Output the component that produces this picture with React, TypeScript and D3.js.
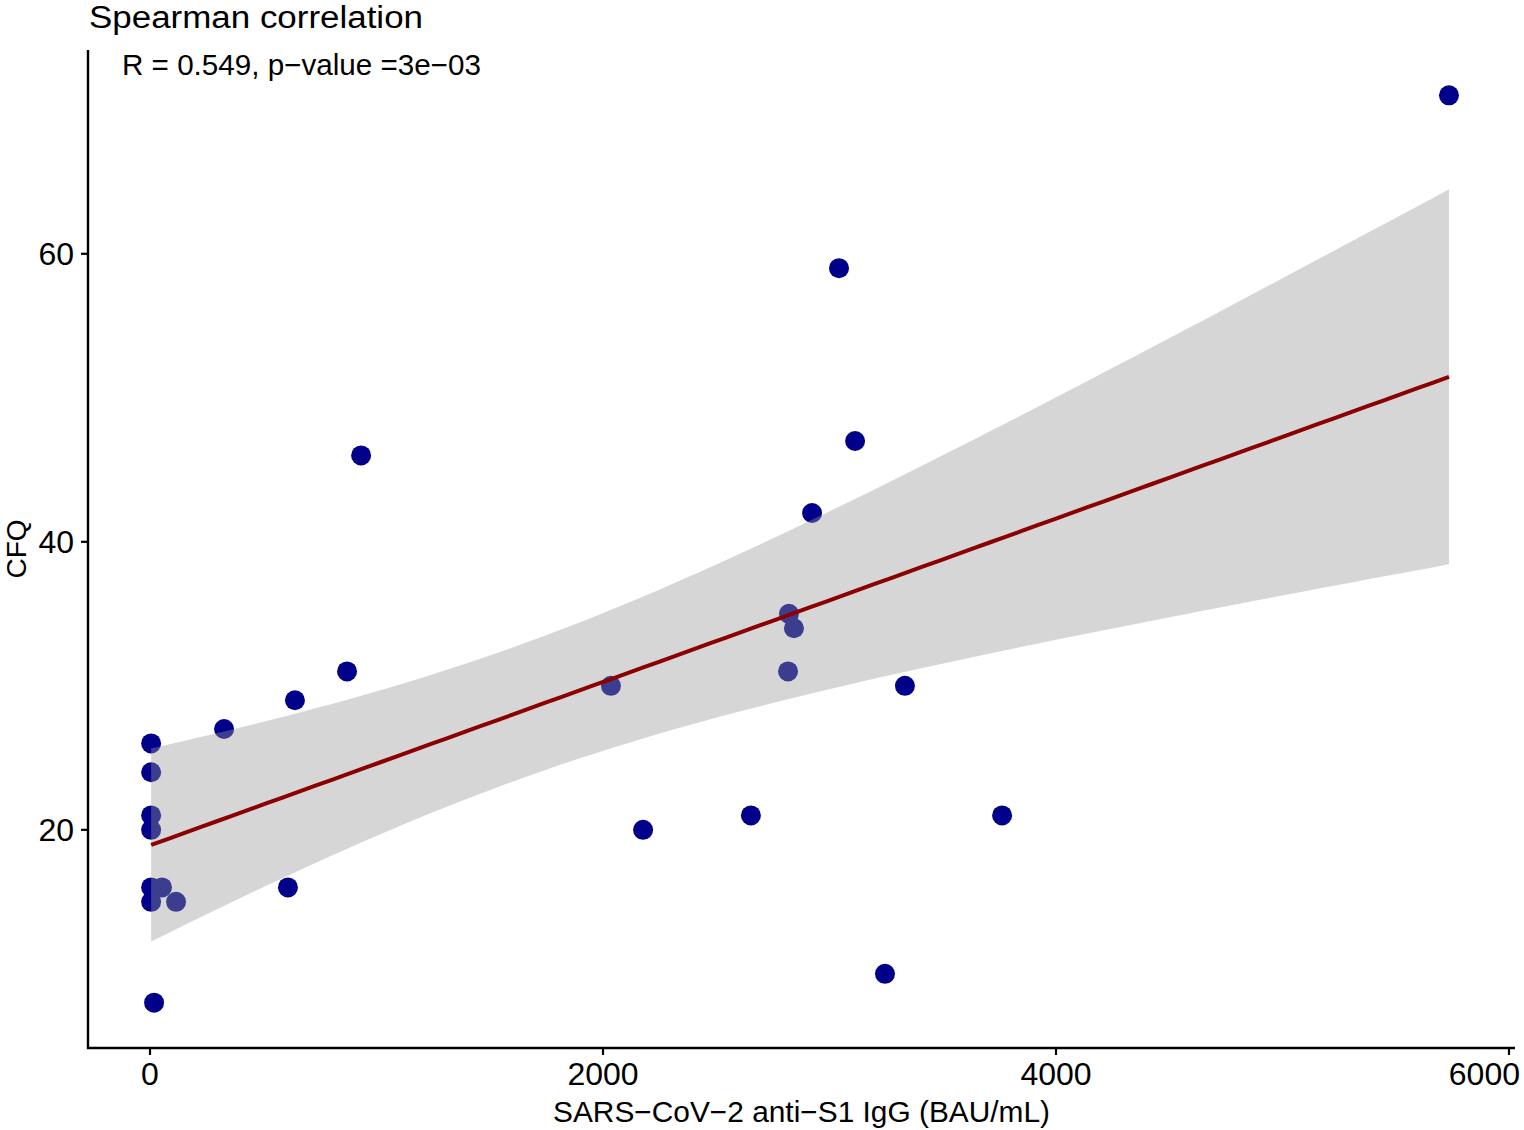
import React from "react"
import * as d3 from "d3"

// values
const antiS1 = [5735, 3042, 932, 3113, 2923, 2821, 2843, 2817, 870, 640, 2035, 3333, 327, 5, 5, 5, 5, 2177, 2653, 3762, 609, 5, 53, 5, 115, 3245, 18]
const cfq = [71, 59, 46, 47, 42, 35, 34, 31, 31, 29, 30, 30, 27, 26, 24, 21, 20, 20, 21, 21, 16, 16, 16, 15, 15, 10, 8]
const xTicks = [0, 2000, 4000, 6000]
const yTicks = [20, 40, 60]
const title = "Spearman correlation"
const statLabel = "R = 0.549, p\u2212value =3e\u221203"
const xLabel = "SARS\u2212CoV\u22122 anti\u2212S1 IgG (BAU/mL)"
const yLabel = "CFQ"

const width = 1524
const height = 1130
const font = "'Liberation Sans', Arial, sans-serif"

const App: React.FC = () => {
  const points = antiS1.map((x, i) => ({ x, y: cfq[i] }))

  const [x0, x1] = d3.extent(antiS1) as [number, number]
  const [y0, y1] = d3.extent(cfq) as [number, number]
  const yPad = (y1 - y0) * 0.05

  // panel: x 88..1515, y 50..1048
  const xScale = d3.scaleLinear().domain([0, 6000]).range([150, 1509])
  const yScale = d3.scaleLinear().domain([y0 - yPad, y1 + yPad]).range([1048, 50])
  const panel = { left: 88, right: 1515, top: 50, bottom: 1048 }

  // linear fit with 95% confidence band
  const n = points.length
  const xMean = d3.mean(antiS1) as number
  const yMean = d3.mean(cfq) as number
  const sxx = d3.sum(antiS1, x => (x - xMean) ** 2)
  const sxy = d3.sum(points, p => (p.x - xMean) * (p.y - yMean))
  const slope = sxy / sxx
  const intercept = yMean - slope * xMean
  const rss = d3.sum(points, p => (p.y - (intercept + slope * p.x)) ** 2)
  const s = Math.sqrt(rss / (n - 2))
  const tCrit = 2.0595

  const fitX = d3.range(80).map(i => x0 + (x1 - x0) * i / 79)
  const band = fitX.map(x => {
    const fit = intercept + slope * x
    const se = s * Math.sqrt(1 / n + (x - xMean) ** 2 / sxx)
    return { x, fit, lo: fit - tCrit * se, hi: fit + tCrit * se }
  })

  const area = d3.area<typeof band[number]>()
    .x(d => xScale(d.x))
    .y0(d => yScale(d.lo))
    .y1(d => yScale(d.hi))

  const line = d3.line<typeof band[number]>()
    .x(d => xScale(d.x))
    .y(d => yScale(d.fit))

  return (
    <svg width={width} height={height} style={{ position: "absolute", left: 0, top: 0 }} fontFamily={font}>
      <rect width={width} height={height} fill="white" />

      {points.map((p, i) => (
        <circle key={i} cx={xScale(p.x)} cy={yScale(p.y)} r={10} fill="#00008B" />
      ))}

      <path d={area(band) ?? ""} fill="#999999" fillOpacity={0.4} />
      <path d={line(band) ?? ""} fill="none" stroke="#8B0000" strokeWidth={4} />

      {/* axes */}
      <line x1={panel.left} x2={panel.left} y1={panel.top} y2={panel.bottom + 1} stroke="black" strokeWidth={2.4} />
      <line x1={panel.left - 1} x2={panel.right} y1={panel.bottom} y2={panel.bottom} stroke="black" strokeWidth={2.4} />

      {yTicks.map(t => (
        <g key={t} transform={`translate(0,${yScale(t)})`}>
          <line x1={81} x2={panel.left} stroke="black" strokeWidth={2.2} />
          <text x={74} dy="0.36em" textAnchor="end" fontSize={32} fill="black">{t}</text>
        </g>
      ))}

      {xTicks.map((t, i) => (
        <g key={t} transform={`translate(${xScale(t)},0)`}>
          <line y1={panel.bottom} y2={panel.bottom + 7} stroke="black" strokeWidth={2.2} />
          <text
            x={i === xTicks.length - 1 ? width - 4 - xScale(t) : 0}
            y={1085}
            textAnchor={i === xTicks.length - 1 ? "end" : "middle"}
            fontSize={32}
            fill="black"
          >{t}</text>
        </g>
      ))}

      <text x={89} y={28} fontSize={31} fill="black" textLength={334} lengthAdjust="spacingAndGlyphs">{title}</text>
      <text x={122} y={75} fontSize={29} fill="black" textLength={359} lengthAdjust="spacingAndGlyphs">{statLabel}</text>
      <text x={553} y={1122} fontSize={29} fill="black" textLength={497} lengthAdjust="spacingAndGlyphs">{xLabel}</text>
      <text transform="translate(26,549) rotate(-90)" textAnchor="middle" fontSize={28} fill="black">{yLabel}</text>
    </svg>
  )
}

export default App
